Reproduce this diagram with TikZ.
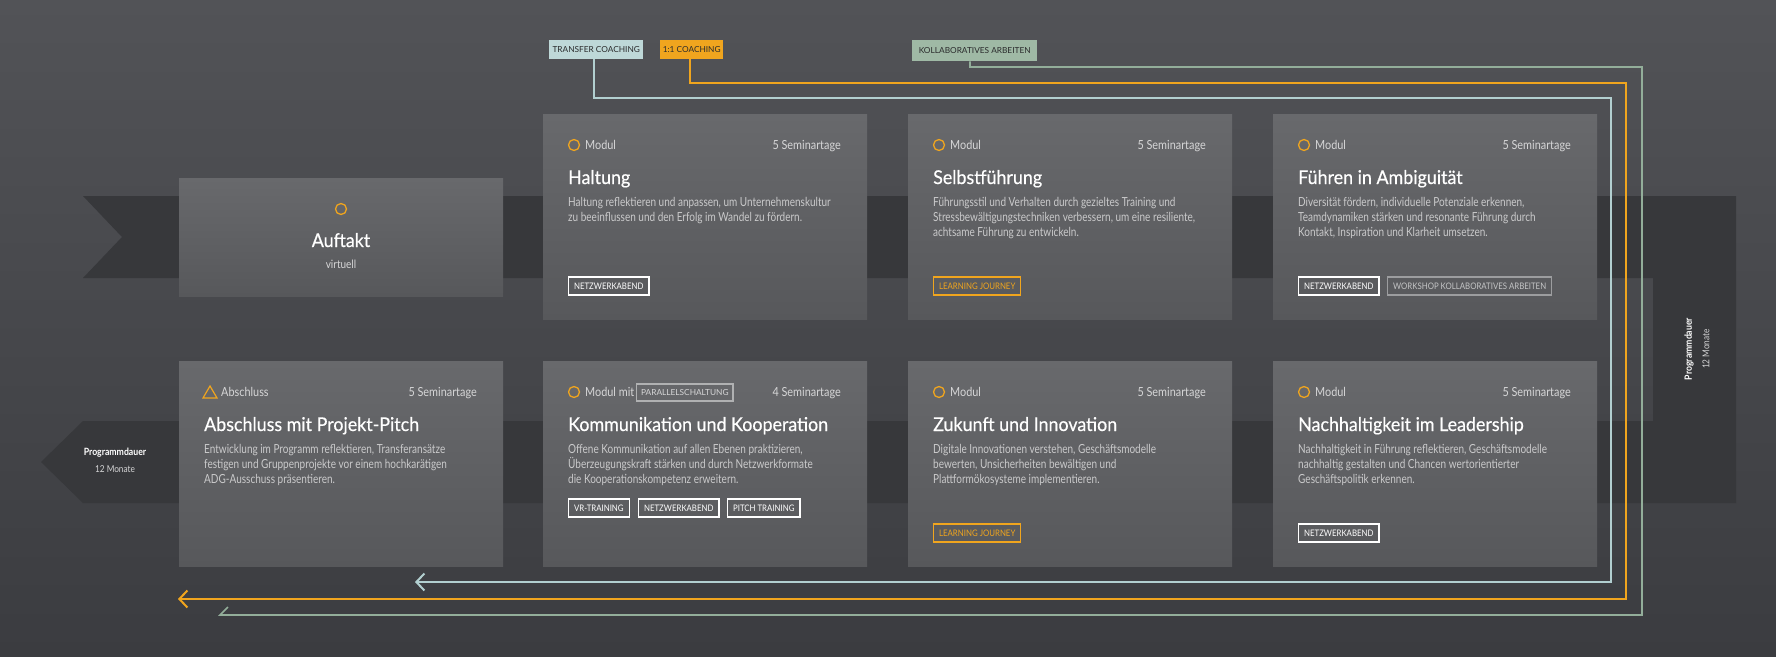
\documentclass[tikz,border=0pt]{standalone}
\usepackage{fontspec}
\setmainfont{Lato}[FakeStretch=0.87]
\newfontfamily\ttlfont{Lato}[FakeStretch=0.94,FakeBold=0.4]
\newfontfamily\bodyfont{Lato}[FakeStretch=0.8]
\newfontfamily\labfont{Lato}
\usetikzlibrary{arrows.meta,calc}
\definecolor{bgtop}{HTML}{525357}
\definecolor{bgbot}{HTML}{3B3C40}
\definecolor{ribboncol}{HTML}{37383B}
\definecolor{cardtop}{HTML}{68696C}
\definecolor{cardbot}{HTML}{57585B}
\definecolor{cteal}{HTML}{B2CFD0}
\definecolor{cteallab}{HTML}{BED8D8}
\definecolor{corange}{HTML}{F0A51E}
\definecolor{csage}{HTML}{93AE9A}
\definecolor{csagelab}{HTML}{9FB9A5}
\definecolor{hdrtxt}{HTML}{D6D6D7}
\definecolor{bodytxt}{HTML}{CACACB}
\definecolor{labtxt}{HTML}{2A2B2C}
\definecolor{taggray}{HTML}{9C9D9F}
\definecolor{taggraytxt}{HTML}{C4C5C6}
\tikzset{
  card/.style={anchor=north west, inner sep=0pt, minimum width=324pt, minimum height=205pt, top color=cardtop, bottom color=cardbot},
  ring/.style={circle, draw=corange, line width=1.3pt, minimum size=11pt, inner sep=0pt},
  hdr/.style={inner sep=0pt, text=hdrtxt, font=\fontsize{12.5}{15}\selectfont},
  ttl/.style={inner sep=0pt, text=white, anchor=base west, font=\ttlfont\fontsize{19}{22}\selectfont},
  bodytext/.style={inner sep=0pt, text=bodytxt, anchor=north west, align=left, font=\bodyfont\fontsize{12.5}{15}\selectfont},
  tagbox/.style={anchor=west, draw=white, text=white, line width=1.2pt, inner xsep=5.5pt, inner ysep=0pt, minimum height=18pt, font=\fontsize{9}{10}\selectfont},
  tagorange/.style={tagbox, draw=corange, text=corange},
  taggrey/.style={tagbox, draw=taggray, text=taggraytxt},
  toplab/.style={anchor=north west, inner sep=0pt, minimum height=19pt, text=labtxt, font=\labfont\fontsize{8.3}{9}\selectfont},
  flowline/.style={line width=2pt},
  arrowend/.style={-{Straight Barb[length=8pt,width=17pt]}},
}
\newcommand\modcard[5]{%
  \node[card] (#1) at (#2,#3) {};
  \node[hdr, anchor=base east] (#1-days) at ($(#1.north west)+(298,35.5)$) {#4};
  \node[ttl] (#1-title) at ($(#1.north west)+(25,70)$) {#5};
}
\newcommand\modhead[2]{%
  \node[ring] (#1-icon) at ($(#1.north west)+(31,31)$) {};
  \node[hdr, anchor=base west] (#1-kind) at ($(#1.north west)+(42,35.5)$) {#2};
}
\newcommand\modbody[2]{%
  \node[bodytext] (#1-body) at ($(#1.north west)+(25,81.5)$) {\rule{0pt}{11pt}#2};
}
\begin{document}
\begin{tikzpicture}[x=1pt,y=-1pt]
\useasboundingbox (0,0) rectangle (1776,656);
\fill[top color=bgtop, bottom color=bgbot] (0,0) rectangle (1776,656);
% ribbon
\fill[ribboncol] (83,196) -- (1736,196) -- (1736,503) -- (83,503) -- (41,462) -- (83,421) -- (1653,421) -- (1653,278) -- (83,278) -- (122,237) -- cycle;

% top labels
\node[toplab, fill=cteallab, minimum width=94pt] (labtransfer) at (549,40) {TRANSFER COACHING};
\node[toplab, fill=corange, minimum width=63pt] (labeins) at (660,40) {1:1 COACHING};
\node[toplab, fill=csagelab, minimum width=125pt, minimum height=21pt] (labkollab) at (912,40) {KOLLABORATIVES ARBEITEN};

% flow lines
\coordinate (t1) at (594,98); \coordinate (t2) at (1611,98); \coordinate (t3) at (1611,582); \coordinate (tend) at (415,582);
\coordinate (o1) at (690,83); \coordinate (o2) at (1626,83); \coordinate (o3) at (1626,599); \coordinate (oend) at (178,599);
\coordinate (g1) at (970,67); \coordinate (g2) at (1642,67); \coordinate (g3) at (1642,615); \coordinate (gend) at (220,615);
\draw[flowline, cteal, arrowend] (labtransfer.south -| t1) -- (t1) -- (t2) -- (t3) -- (tend);
\draw[flowline, corange, arrowend] (labeins.south -| o1) -- (o1) -- (o2) -- (o3) -- (oend);
\draw[flowline, csage, line width=1.6pt] (labkollab.south -| g1) -- (g1) -- (g2) -- (g3) -- (gend) -- ++(8,-8);

% Auftakt
\node[card, minimum height=118pt] (auftakt) at (179,178) {};
\node[ring] (auftakt-icon) at (341,209) {};
\node[ttl, anchor=base] (auftakt-title) at (341,247) {Auftakt};
\node[hdr, anchor=base, font=\fontsize{11.5}{14}\selectfont] (auftakt-sub) at (341,268) {virtuell};

% top row
\modcard{haltung}{543}{114}{5 Seminartage}{Haltung}
\modhead{haltung}{Modul}
\modbody{haltung}{Haltung reflektieren und anpassen, um Unternehmenskultur\\zu beeinflussen und den Erfolg im Wandel zu fördern.}
\node[tagbox] (haltung-tag1) at (568,286) {NETZWERKABEND};

\modcard{selbst}{908}{114}{5 Seminartage}{Selbstführung}
\modhead{selbst}{Modul}
\modbody{selbst}{Führungsstil und Verhalten durch gezieltes Training und\\Stressbewältigungstechniken verbessern, um eine resiliente,\\achtsame Führung zu entwickeln.}
\node[tagorange] (selbst-tag1) at (933,286) {LEARNING JOURNEY};

\modcard{fuehren}{1273}{114}{5 Seminartage}{Führen in Ambiguität}
\modhead{fuehren}{Modul}
\modbody{fuehren}{Diversität fördern, individuelle Potenziale erkennen,\\Teamdynamiken stärken und resonante Führung durch\\Kontakt, Inspiration und Klarheit umsetzen.}
\node[tagbox] (fuehren-tag1) at (1298,286) {NETZWERKABEND};
\node[taggrey] (fuehren-tag2) at (1387,286) {WORKSHOP KOLLABORATIVES ARBEITEN};

% bottom row
\modcard{abschluss}{179}{361}{5 Seminartage}{Abschluss mit Projekt-Pitch}
\draw[corange, line width=1.2pt] ($(abschluss.north west)+(24,37)$) -- +(14,0) -- +(7,-12) -- cycle;
\node[hdr, anchor=base west] (abschluss-kind) at ($(abschluss.north west)+(42,35.5)$) {Abschluss};
\modbody{abschluss}{Entwicklung im Programm reflektieren, Transferansätze\\festigen und Gruppenprojekte vor einem hochkarätigen\\ADG-Ausschuss präsentieren.}

\modcard{komm}{543}{361}{4 Seminartage}{Kommunikation und Kooperation}
\modhead{komm}{Modul mit}
\node[taggrey, draw=taggray!80!white, text=hdrtxt, minimum height=17pt, font=\labfont\fontsize{8.3}{9}\selectfont, inner xsep=4.5pt] (komm-par) at (636,392.5) {PARALLELSCHALTUNG};
\modbody{komm}{Offene Kommunikation auf allen Ebenen praktizieren,\\Überzeugungskraft stärken und durch Netzwerkformate\\die Kooperationskompetenz erweitern.}
\node[tagbox] (komm-tag1) at (568,508) {VR-TRAINING};
\node[tagbox] (komm-tag2) at (638,508) {NETZWERKABEND};
\node[tagbox] (komm-tag3) at (727,508) {PITCH TRAINING};

\modcard{zukunft}{908}{361}{5 Seminartage}{Zukunft und Innovation}
\modhead{zukunft}{Modul}
\modbody{zukunft}{Digitale Innovationen verstehen, Geschäftsmodelle\\bewerten, Unsicherheiten bewältigen und\\Plattformökosysteme implementieren.}
\node[tagorange] (zukunft-tag1) at (933,533) {LEARNING JOURNEY};

\modcard{nachh}{1273}{361}{5 Seminartage}{Nachhaltigkeit im Leadership}
\modhead{nachh}{Modul}
\modbody{nachh}{Nachhaltigkeit in Führung reflektieren, Geschäftsmodelle\\nachhaltig gestalten und Chancen wertorientierter\\Geschäftspolitik erkennen.}
\node[tagbox] (nachh-tag1) at (1298,533) {NETZWERKABEND};

% Programmdauer labels
\node[inner sep=0pt, text=white, font=\bfseries\fontsize{10}{12}\selectfont] (pd-left) at (115,453) {Programmdauer};
\node[inner sep=0pt, text=hdrtxt, font=\fontsize{9.5}{12}\selectfont] (pd-left-sub) at (115,469) {12 Monate};
\node[inner sep=0pt, text=white, rotate=90, font=\bfseries\fontsize{10}{12}\selectfont] (pd-right) at (1689,349) {Programmdauer};
\node[inner sep=0pt, text=hdrtxt, rotate=90, font=\fontsize{9.5}{12}\selectfont] (pd-right-sub) at (1706,349) {12 Monate};
\end{tikzpicture}
\end{document}
